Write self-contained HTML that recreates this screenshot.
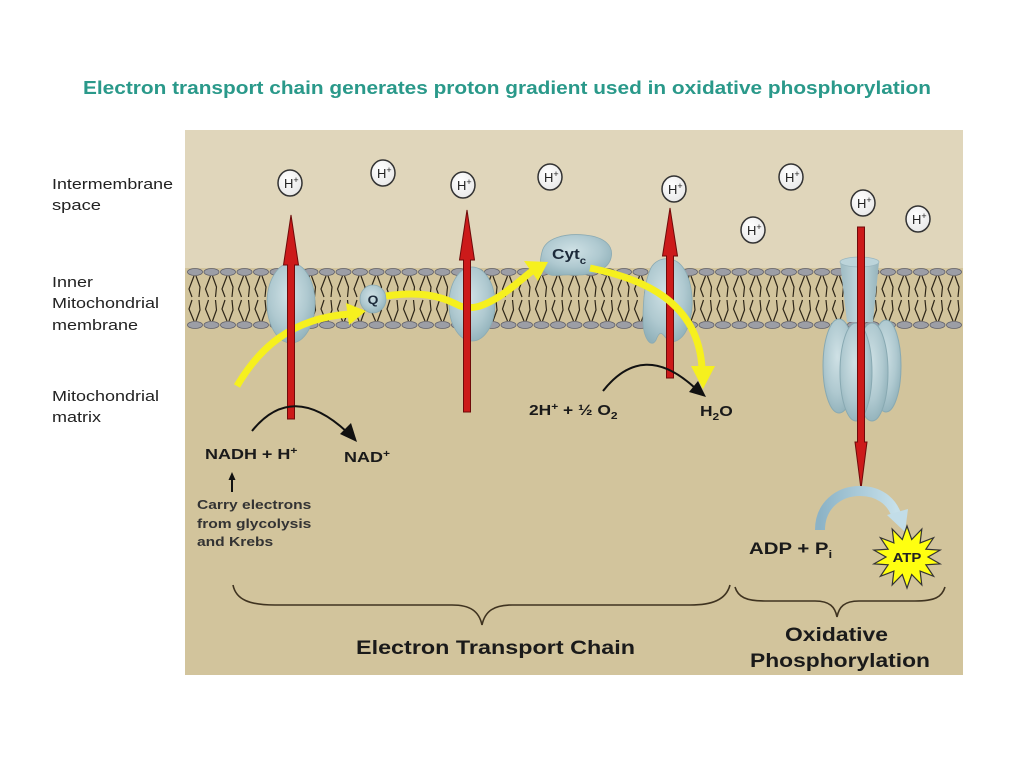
<!DOCTYPE html>
<html>
<head>
<meta charset="utf-8">
<style>
  html,body{margin:0;padding:0;background:#ffffff;}
  svg{display:block;}
  text{font-family:"Liberation Sans", Arial, sans-serif;}
</style>
</head>
<body>
<svg width="1024" height="768" viewBox="0 0 1024 768" xmlns="http://www.w3.org/2000/svg">
  <defs>
    <radialGradient id="prot" cx="45%" cy="40%" r="65%">
      <stop offset="0" stop-color="#cfe1e5"/>
      <stop offset="0.6" stop-color="#afc9d0"/>
      <stop offset="1" stop-color="#8fb0b9"/>
    </radialGradient>
    <linearGradient id="stalk" x1="0" y1="0" x2="1" y2="0">
      <stop offset="0" stop-color="#9dbac2"/>
      <stop offset="0.5" stop-color="#c3d9de"/>
      <stop offset="1" stop-color="#95b3bb"/>
    </linearGradient>
    <radialGradient id="hcirc" cx="40%" cy="35%" r="70%">
      <stop offset="0" stop-color="#ffffff"/>
      <stop offset="1" stop-color="#e8e8e8"/>
    </radialGradient>
    <linearGradient id="blue" x1="0" y1="0" x2="1" y2="0">
      <stop offset="0" stop-color="#8cb3c6"/>
      <stop offset="1" stop-color="#c6e0ea"/>
    </linearGradient>
  </defs>

  <!-- Title -->
  <text x="83" y="94" font-size="18" font-weight="bold" fill="#2a998a" textLength="848" lengthAdjust="spacingAndGlyphs">Electron transport chain generates proton gradient used in oxidative phosphorylation</text>

  <!-- Panel -->
  <rect x="185" y="130" width="778" height="545" fill="#d2c49c"/>
  <rect x="185" y="130" width="778" height="138" fill="#e0d6bb"/>

  <!-- Membrane -->
  <g stroke="#2e2618" stroke-width="1.2" fill="none">
    <g id="tailgroup"></g>
  </g>
  <g id="heads"></g>

  <!-- Proteins -->
  <ellipse cx="291" cy="303" rx="24" ry="40" fill="url(#prot)" stroke="#8aaab3" stroke-width="0.8"/>
  <ellipse cx="472" cy="304" rx="23" ry="37" fill="url(#prot)" stroke="#8aaab3" stroke-width="0.8"/>
  <ellipse cx="373" cy="299" rx="13" ry="14" fill="url(#prot)" stroke="#8aaab3" stroke-width="0.8"/>
  <path d="M650,270 C655,257 672,255 681,265 C691,276 695,300 690,320 C686,337 676,345 668,340 C663,336 661,327 656,340 C651,349 643,338 643,320 C643,300 645,282 650,270 Z" fill="url(#prot)" stroke="#8aaab3" stroke-width="0.8"/>
  <!-- Cyt c -->
  <path d="M542,252 C545,238 565,233 585,235 C605,237 614,246 611,258 C608,270 592,276 572,275 C558,274 552,278 545,272 C539,266 540,260 542,252 Z" fill="url(#prot)" stroke="#8aaab3" stroke-width="0.8"/>

  <!-- ATP synthase -->
  <path d="M840,262 L879,262 L873,322 L847,322 Z" fill="url(#stalk)"/>
  <ellipse cx="859.5" cy="262" rx="19.5" ry="5" fill="#bcd4da" stroke="#9ab6be" stroke-width="0.8"/>
  <ellipse cx="886" cy="366" rx="15" ry="46" fill="url(#prot)" stroke="#88a9b2" stroke-width="1"/>
  <ellipse cx="872" cy="372" rx="16" ry="49" fill="url(#prot)" stroke="#88a9b2" stroke-width="1"/>
  <ellipse cx="839" cy="366" rx="16" ry="47" fill="url(#prot)" stroke="#88a9b2" stroke-width="1"/>
  <ellipse cx="856" cy="372" rx="16" ry="49" fill="url(#prot)" stroke="#88a9b2" stroke-width="1"/>

  <!-- Yellow electron path (under first two red arrows) -->
  <g fill="none" stroke="#f6f01e" stroke-width="7" stroke-linecap="butt">
    <path d="M237,386 C258,350 290,318 350,314"/>
    <path d="M386,296 C420,291 440,296 456,304 C470,312 484,306 500,296 C512,288 522,279 532,271"/>
  </g>
  <polygon points="366,311 346,303 349,325" fill="#f6f01e"/>
  <polygon points="548,262 524,261 538,281" fill="#f6f01e"/>

  <!-- Red arrows -->
  <g fill="#cc1a1a" stroke="#6e0a0a" stroke-width="1">
    <polygon points="287.5,419 287.5,265 283.5,265 291,215 298.5,265 294.5,265 294.5,419"/>
    <polygon points="463.5,412 463.5,260 459.5,260 467,210 474.5,260 470.5,260 470.5,412"/>
    <polygon points="666.5,378 666.5,256 662.5,256 670,208 677.5,256 673.5,256 673.5,378"/>
    <polygon points="857.5,227 864.5,227 864.5,442 867,442 861,489 855,442 857.5,442"/>
  </g>

  <!-- Yellow third segment (over red) -->
  <path d="M590,268 C640,278 698,300 702,368" fill="none" stroke="#f6f01e" stroke-width="7"/>
  <polygon points="703,389 691,366 715,366" fill="#f6f01e"/>

  <!-- H+ circles -->
  <g stroke="#333" stroke-width="1.5" fill="url(#hcirc)">
    <ellipse cx="290" cy="183" rx="12" ry="13"/>
    <ellipse cx="383" cy="173" rx="12" ry="13"/>
    <ellipse cx="463" cy="185" rx="12" ry="13"/>
    <ellipse cx="550" cy="177" rx="12" ry="13"/>
    <ellipse cx="674" cy="189" rx="12" ry="13"/>
    <ellipse cx="791" cy="177" rx="12" ry="13"/>
    <ellipse cx="753" cy="230" rx="12" ry="13"/>
    <ellipse cx="863" cy="203" rx="12" ry="13"/>
    <ellipse cx="918" cy="219" rx="12" ry="13"/>
  </g>
  <g font-size="13" fill="#222">
    <text x="284" y="188">H<tspan font-size="9" dy="-5">+</tspan></text>
    <text x="377" y="178">H<tspan font-size="9" dy="-5">+</tspan></text>
    <text x="457" y="190">H<tspan font-size="9" dy="-5">+</tspan></text>
    <text x="544" y="182">H<tspan font-size="9" dy="-5">+</tspan></text>
    <text x="668" y="194">H<tspan font-size="9" dy="-5">+</tspan></text>
    <text x="785" y="182">H<tspan font-size="9" dy="-5">+</tspan></text>
    <text x="747" y="235">H<tspan font-size="9" dy="-5">+</tspan></text>
    <text x="857" y="208">H<tspan font-size="9" dy="-5">+</tspan></text>
    <text x="912" y="224">H<tspan font-size="9" dy="-5">+</tspan></text>
  </g>

  <!-- Protein labels -->
  <text transform="translate(373,304) scale(1.15,1)" text-anchor="middle" font-size="12" font-weight="bold" fill="#1c2a3a">Q</text>
  <text transform="translate(552,259) scale(1.15,1)" font-size="15" font-weight="bold" fill="#1c2a3a">Cyt<tspan font-size="10" dy="5">c</tspan></text>

  <!-- Left labels -->
  <g font-size="15" fill="#222">
    <text x="52" y="189" textLength="121" lengthAdjust="spacingAndGlyphs">Intermembrane</text>
    <text x="52" y="210" textLength="49" lengthAdjust="spacingAndGlyphs">space</text>
    <text x="52" y="287" textLength="41" lengthAdjust="spacingAndGlyphs">Inner</text>
    <text x="52" y="308" textLength="107" lengthAdjust="spacingAndGlyphs">Mitochondrial</text>
    <text x="52" y="330" textLength="86" lengthAdjust="spacingAndGlyphs">membrane</text>
    <text x="52" y="401" textLength="107" lengthAdjust="spacingAndGlyphs">Mitochondrial</text>
    <text x="52" y="422" textLength="49" lengthAdjust="spacingAndGlyphs">matrix</text>
  </g>

  <!-- Black reaction arrows -->
  <g fill="none" stroke="#111" stroke-width="2">
    <path d="M252,431 Q292,381 347,432"/>
    <path d="M603,391 Q643,340 695,388"/>
    <line x1="232" y1="492" x2="232" y2="479"/>
  </g>
  <polygon points="357,442 340,434 351,423" fill="#111"/>
  <polygon points="706,397 689,392 698,381" fill="#111"/>
  <polygon points="232,472 228.5,480 235.5,480" fill="#111"/>

  <!-- Matrix texts -->
  <g font-weight="bold" fill="#1a1a1a">
    <text transform="translate(205,459) scale(1.2,1)" font-size="15">NADH + H<tspan font-size="10" dy="-5">+</tspan></text>
    <text transform="translate(344,462) scale(1.2,1)" font-size="15">NAD<tspan font-size="10" dy="-5">+</tspan></text>
    <text transform="translate(529,415) scale(1.2,1)" font-size="14.5">2H<tspan font-size="10" dy="-5">+</tspan><tspan dy="5"> + ½ O</tspan><tspan font-size="10" dy="4">2</tspan></text>
    <text transform="translate(700,416) scale(1.2,1)" font-size="14.5">H<tspan font-size="10" dy="4">2</tspan><tspan dy="-4">O</tspan></text>
    <text transform="translate(749,554) scale(1.2,1)" font-size="17">ADP + P<tspan font-size="11" dy="4">i</tspan></text>
  </g>
  <g font-weight="bold" fill="#333" font-size="13">
    <text transform="translate(197,509) scale(1.2,1)">Carry electrons</text>
    <text transform="translate(197,528) scale(1.2,1)">from glycolysis</text>
    <text transform="translate(197,546) scale(1.2,1)">and Krebs</text>
  </g>

  <!-- Light blue arrow to ATP -->
  <path d="M820,530 C820,506 838,491 860,491 C879,491 891,501 896,514" fill="none" stroke="url(#blue)" stroke-width="10"/>
  <polygon points="905,532 887,515 908,509" fill="#c2dde8"/>

  <!-- ATP starburst -->
  <polygon id="star" fill="#ffff10" stroke="#333" stroke-width="1.2" points=""/>
  <text transform="translate(907,562) scale(1.15,1)" text-anchor="middle" font-size="13" font-weight="bold" fill="#222">ATP</text>

  <!-- Braces -->
  <g fill="none" stroke="#3f3320" stroke-width="1.6">
    <path d="M233,585 C236,600 250,605 275,605 L452,605 C470,605 479,611 482,625 C485,611 494,605 512,605 L690,605 C712,605 726,600 730,585"/>
    <path d="M735,587 C738,597 746,601 765,601 L815,601 C830,601 835,607 837,617 C839,607 844,601 859,601 L915,601 C935,601 942,597 945,587"/>
  </g>

  <!-- Bottom labels -->
  <g font-weight="bold" fill="#1a1a1a" font-size="19">
    <text x="356" y="654" textLength="279" lengthAdjust="spacingAndGlyphs">Electron Transport Chain</text>
    <text x="785" y="641" textLength="103" lengthAdjust="spacingAndGlyphs">Oxidative</text>
    <text x="750" y="667" textLength="180" lengthAdjust="spacingAndGlyphs">Phosphorylation</text>
  </g>

  <script>
    (function(){
      var ns="http://www.w3.org/2000/svg";
      var tg=document.getElementById("tailgroup");
      var hg=document.getElementById("heads");
      var d="";
      for(var k=0;k<47;k++){
        var x=195+k*16.5;
        d+="M"+(x-1)+",276 L"+(x-6)+",289 L"+(x-3)+",297 ";
        d+="M"+(x+1)+",276 L"+(x+5)+",287 L"+(x+4)+",297 ";
        d+="M"+(x-1)+",321 L"+(x-6)+",309 L"+(x-3)+",300 ";
        d+="M"+(x+1)+",321 L"+(x+5)+",310 L"+(x+4)+",300 ";
        [272,325].forEach(function(y){
          var e=document.createElementNS(ns,"ellipse");
          e.setAttribute("cx",x);e.setAttribute("cy",y);
          e.setAttribute("rx",7.5);e.setAttribute("ry",3.5);
          e.setAttribute("fill","#9c9ea6");e.setAttribute("stroke","#60606a");
          e.setAttribute("stroke-width","0.8");
          hg.appendChild(e);
        });
      }
      var p=document.createElementNS(ns,"path");
      p.setAttribute("d",d);
      tg.appendChild(p);
      var pts=[],n=14,cx=907,cy=557;
      for(var i=0;i<2*n;i++){
        var a=-Math.PI/2+i*Math.PI/n;
        var rx=(i%2==0)?34:21, ry=(i%2==0)?31:18;
        pts.push((cx+rx*Math.cos(a)).toFixed(1)+","+(cy+ry*Math.sin(a)).toFixed(1));
      }
      document.getElementById("star").setAttribute("points",pts.join(" "));
    })();
  </script>
</svg>
</body>
</html>
